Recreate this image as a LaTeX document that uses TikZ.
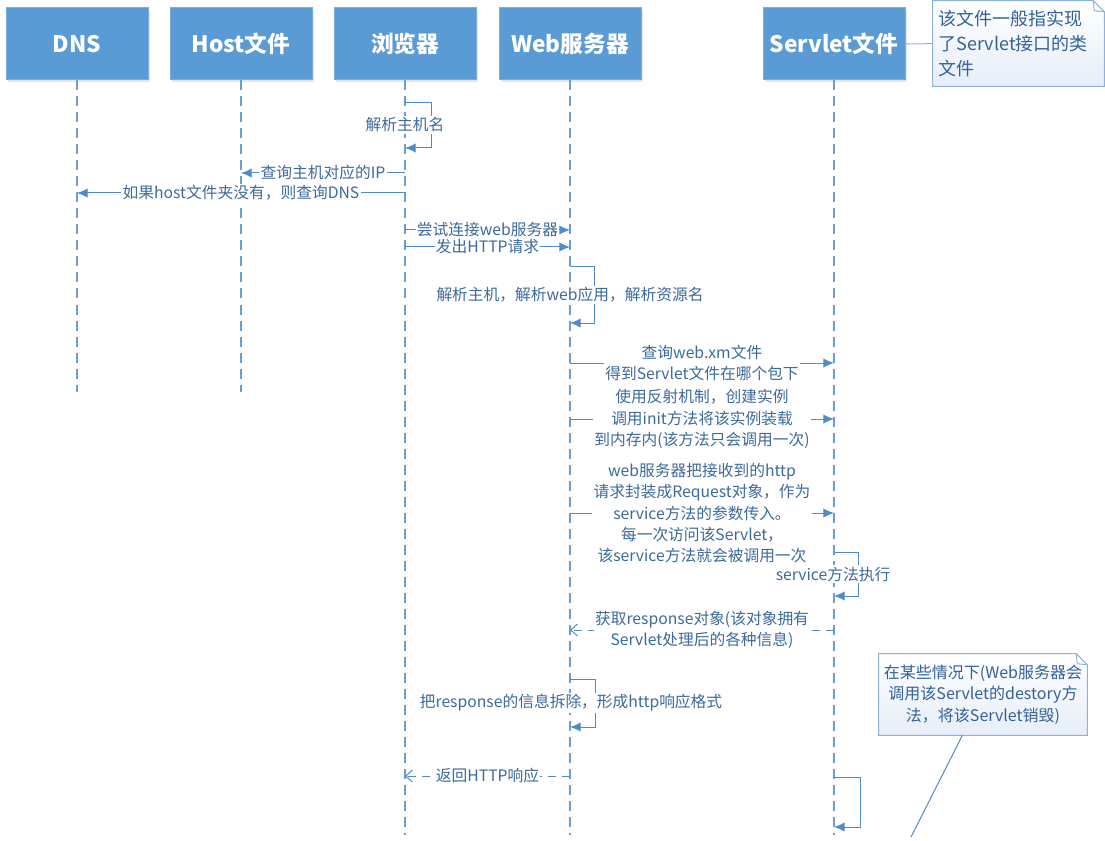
\documentclass[tikz,border=0pt]{standalone}
\usepackage{fontspec}
\setmainfont{Noto Sans CJK SC}
\usetikzlibrary{arrows.meta,%
	shadows,%
	calc,%
	backgrounds}

\definecolor{headblue}{HTML}{5B9BD5}
\definecolor{headedge}{HTML}{7BAEDC}
\definecolor{lifeblue}{HTML}{6A9FD6}
\definecolor{msgblue}{HTML}{4F8BC9}
\definecolor{msgtext}{HTML}{3D6A9C}
\definecolor{noteedge}{HTML}{8DB3DC}
\definecolor{notefill}{HTML}{E6EEF8}
\definecolor{notetext}{HTML}{34609A}

\begin{document}
\begin{tikzpicture}[x=0.75pt,y=-0.75pt,
	head_node/.style={rectangle,fill=headblue,draw=headedge,line width=0.75pt,minimum width=106.5pt,minimum height=54pt,text=white,font=\fontsize{17}{20}\selectfont\bfseries,drop shadow={opacity=0.2,shadow xshift=1.5pt,shadow yshift=-1.5pt}},
	life_line/.style={draw=lifeblue,line width=1pt,dash pattern=on 7.5pt off 4.5pt},
	msg_line/.style={draw=msgblue,line width=0.75pt,-{Latex[length=8pt,width=7pt]}},
	back_line/.style={draw=msgblue,line width=0.75pt,dash pattern=on 6pt off 4.5pt,-{Straight Barb[length=5pt,width=9pt]}},
	msg_text/.style={fill=white,text=msgtext,inner sep=1pt,align=center,font=\fontsize{11.8}{16}\selectfont},
	note_box/.style={inner sep=0pt,text=notetext},
	note_edge/.style={draw=noteedge,line width=0.75pt,top color=white,bottom color=notefill},
	note_link/.style={draw=noteedge,line width=0.75pt}]

		\useasboundingbox (0,0) rectangle (1105,841);

		% heads
		\node[head_node] (dns) at (77,44) {DNS};
		\node[head_node] (host) at (241,44) {Host文件};
		\node[head_node] (browser) at (405,44) {浏览器};
		\node[head_node] (web) at (570,44) {Web服务器};
		\node[head_node] (servlet) at (834,44) {Servlet文件};

		% lifelines
		\coordinate (dns_end) at (77,392);
		\coordinate (host_end) at (241,392);
		\coordinate (browser_end) at (405,835);
		\coordinate (web_end) at (570,835);
		\coordinate (servlet_end) at (834,835);
		\draw[life_line] (dns) -- (dns_end);
		\draw[life_line] (host) -- (host_end);
		\draw[life_line] (browser) -- (browser_end);
		\draw[life_line] (web) -- (web_end);
		\draw[life_line] (servlet) -- (servlet_end);

		% browser
		\coordinate (b1) at (405,103);
		\coordinate (b1r) at (431,103);
		\coordinate (b2r) at (431,148);
		\coordinate (b2) at (405,148);
		\draw[msg_line] (b1) -- (b1r) -- (b2r) -- (b2);
		\node[msg_text] (lbl_name) at (405,125) {解析主机名};

		\coordinate (b3) at (405,173);
		\coordinate (h3) at (241,173);
		\draw[msg_line] (b3) -- node[msg_text] (lbl_ip) {查询主机对应的IP} (h3);

		\coordinate (b4) at (405,193);
		\coordinate (d4) at (77,193);
		\draw[msg_line] (b4) -- node[msg_text] (lbl_dns) {如果host文件夹没有，则查询DNS} (d4);

		\coordinate (b5) at (405,230);
		\coordinate (w5) at (570,230);
		\draw[msg_line] (b5) -- node[msg_text] (lbl_connect) {尝试连接web服务器} (w5);

		\coordinate (b6) at (405,247);
		\coordinate (w6) at (570,247);
		\draw[msg_line] (b6) -- node[msg_text] (lbl_http) {发出HTTP请求} (w6);

		% web server
		\coordinate (w7) at (570,267);
		\coordinate (w7r) at (594,267);
		\coordinate (w8r) at (594,323);
		\coordinate (w8) at (570,323);
		\draw[msg_line] (w7) -- (w7r) -- (w8r) -- (w8);
		\node[msg_text] (lbl_parse) at (570,295) {解析主机，解析web应用，解析资源名};

		\coordinate (w9) at (570,363);
		\coordinate (s9) at (834,363);
		\draw[msg_line] (w9) -- node[msg_text] (lbl_xml) {查询web.xm文件\\得到Servlet文件在哪个包下} (s9);

		\coordinate (w10) at (570,419);
		\coordinate (s10) at (834,419);
		\draw[msg_line] (w10) -- node[msg_text] (lbl_init) {使用反射机制，创建实例\\调用init方法将该实例装载\\到内存内(该方法只会调用一次)} (s10);

		\coordinate (w11) at (570,513);
		\coordinate (s11) at (834,513);
		\draw[msg_line] (w11) -- (s11);
		\node[msg_text] (lbl_request) at (702,492) {web服务器把接收到的http\\请求封装成Request对象，作为\\service方法的参数传入。};

		% servlet
		\coordinate (s12) at (834,552);
		\coordinate (s12r) at (858,552);
		\coordinate (s13r) at (858,596);
		\coordinate (s13) at (834,596);
		\draw[msg_line] (s12) -- (s12r) -- (s13r) -- (s13);
		\node[msg_text] (lbl_each) at (702,545) {每一次访问该Servlet，\\该service方法就会被调用一次};
		\node[msg_text] (lbl_service) at (833,574) {service方法执行};

		\coordinate (s14) at (834,630);
		\coordinate (w14) at (570,630);
		\draw[back_line] (s14) -- node[msg_text] (lbl_response) {获取response对象(该对象拥有\\Servlet处理后的各种信息)} (w14);

		\coordinate (w15) at (570,679);
		\coordinate (w15r) at (595,679);
		\coordinate (w16r) at (595,727);
		\coordinate (w16) at (570,727);
		\draw[msg_line] (w15) -- (w15r) -- (w16r) -- (w16);
		\node[msg_text] (lbl_split) at (571,703) {把response的信息拆除，形成http响应格式};

		\coordinate (w17) at (570,776);
		\coordinate (b17) at (405,776);
		\draw[back_line] (w17) -- node[msg_text] (lbl_return) {返回HTTP响应} (b17);

		\coordinate (s18) at (834,777);
		\coordinate (s18r) at (860,777);
		\coordinate (s19r) at (860,827);
		\coordinate (s19) at (834,827);
		\draw[msg_line] (s18) -- (s18r) -- (s19r) -- (s19);

		% notes
		\node[note_box,minimum width=128.25pt,minimum height=63.75pt,text width=120pt,align=left,font=\fontsize{13.5}{18.75}\selectfont] (note_top) at (1018.5,43.5) {该文件一般指实现\\了Servlet接口的类\\文件};
		\node[note_box,minimum width=156pt,minimum height=60.75pt,align=center,font=\fontsize{12}{16}\selectfont] (note_bottom) at (983,694.5) {在某些情况下(Web服务器会\\调用该Servlet的destory方\\法，将该Servlet销毁)};
		\begin{scope}[on background layer]
		\draw[note_edge] (note_top.south west) -- (note_top.north west) -- ($(note_top.north east)+(-11,0)$) -- ($(note_top.north east)+(0,11)$) -- (note_top.south east) -- cycle;
		\draw[note_edge] (note_bottom.south west) -- (note_bottom.north west) -- ($(note_bottom.north east)+(-11,0)$) -- ($(note_bottom.north east)+(0,11)$) -- (note_bottom.south east) -- cycle;
		\end{scope}
		\draw[note_link] ($(note_top.north east)+(-11,0)$) -- ($(note_top.north east)+(-10,10)$) -- ($(note_top.north east)+(0,11)$);
		\draw[note_link] ($(note_bottom.north east)+(-11,0)$) -- ($(note_bottom.north east)+(-10,10)$) -- ($(note_bottom.north east)+(0,11)$);

		\coordinate (note_tail) at (911,837);
		\draw[note_link] (servlet) -- (note_top);
		\draw[note_link,draw=msgblue] (note_bottom) -- (note_tail);
		\end{tikzpicture}
\end{document}
